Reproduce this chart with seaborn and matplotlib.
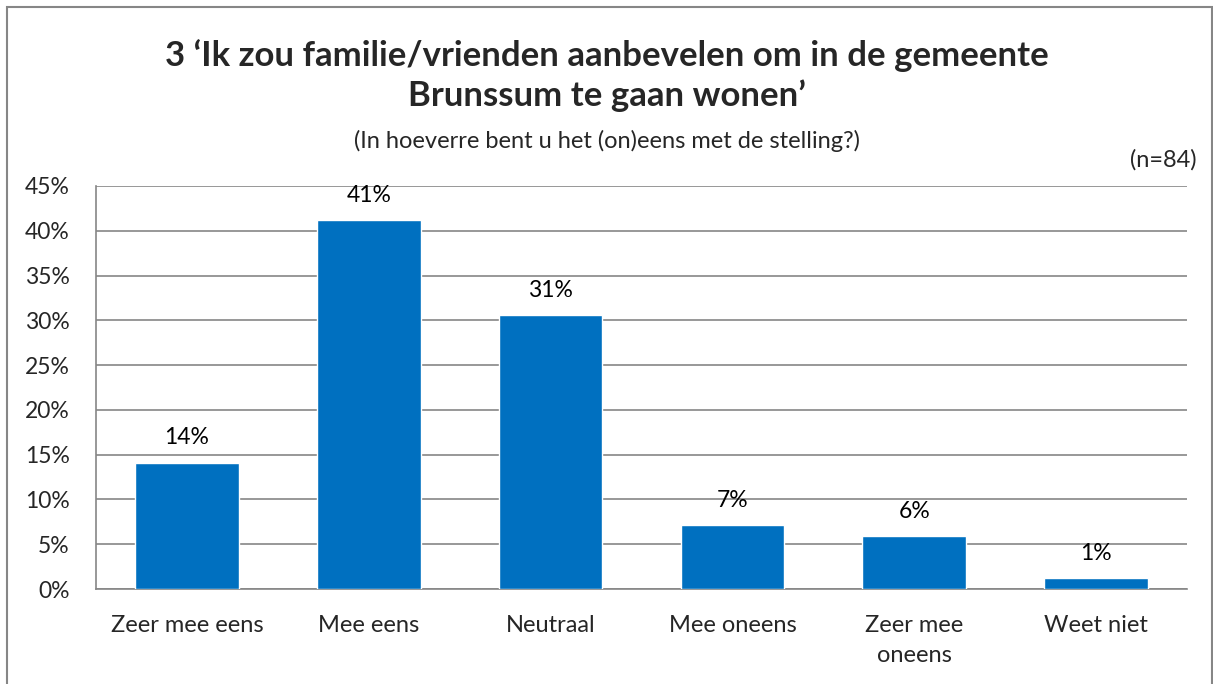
import matplotlib
matplotlib.use("Agg")
import matplotlib.pyplot as plt
import seaborn as sns
import pandas as pd
from matplotlib.patches import Rectangle
from matplotlib.ticker import FixedLocator

categories = ["Zeer mee eens", "Mee eens", "Neutraal", "Mee oneens", "Zeer mee\noneens", "Weet niet"]
values = [14.1, 41.2, 30.6, 7.1, 5.9, 1.2]
labels = ["14%", "41%", "31%", "7%", "6%", "1%"]
yticks = [0, 5, 10, 15, 20, 25, 30, 35, 40, 45]

sns.set_style("white")
plt.rcParams['font.family'] = ['Lato', 'DejaVu Sans']

df = pd.DataFrame({"cat": categories, "val": values})

fig = plt.figure(figsize=(12.13, 6.84), dpi=100)
ax = fig.add_axes([96/1213, 1-589/684, (1187-96)/1213, (589-186)/684])

sns.barplot(data=df, x="cat", y="val", color="#0070C0", width=0.57, saturation=1, ax=ax, zorder=3)

ax.set_ylim(0, 45)
ax.set_xlim(-0.5, len(categories) - 0.5)
ax.set_yticks(yticks)
ax.set_yticklabels([f"{t}%" for t in yticks], fontsize=16.5)
ax.yaxis.grid(True, color="#868686", linewidth=1.2, zorder=0)
ax.set_axisbelow(True)
ax.set_xlabel("")
ax.set_ylabel("")
ax.tick_params(axis="y", length=7, color="#868686", width=1.2, pad=12)
ax.tick_params(axis="x", which="major", length=0, labelsize=17, pad=19)
for t in ax.get_xticklabels():
    t.set_linespacing(1.5)
ax.xaxis.set_minor_locator(FixedLocator([i - 0.5 for i in range(len(categories) + 1)]))
ax.tick_params(axis="x", which="minor", length=7, color="#868686", width=1.2)
for s in ["top", "right"]:
    ax.spines[s].set_visible(False)
for s in ["left", "bottom"]:
    ax.spines[s].set_color("#868686")
    ax.spines[s].set_linewidth(1.2)

for i, (v, lab) in enumerate(zip(values, labels)):
    ax.text(i, v + 1.6, lab, ha="center", va="bottom", fontsize=16.5, color="black")

fig.text(0.5, 1 - 56/684, "3 \u2018Ik zou familie/vrienden aanbevelen om in de gemeente", ha="center", va="center",
         fontsize=25, fontweight="bold")
fig.text(0.5, 1 - 96/684, "Brunssum te gaan wonen\u2019", ha="center", va="center",
         fontsize=25, fontweight="bold")
fig.text(0.5, 1 - 141/684, "(In hoeverre bent u het (on)eens met de stelling?)", ha="center", va="center",
         fontsize=17)
fig.text(1197/1213, 1 - 160/684, "(n=84)", ha="right", va="center", fontsize=17)

fig.patches.append(Rectangle((7/1213, -0.05), 1205/1213, 1 - 7/684 + 0.05, transform=fig.transFigure,
                             fill=False, edgecolor="#868686", linewidth=1.5))

fig.savefig("out.png", dpi=100)
